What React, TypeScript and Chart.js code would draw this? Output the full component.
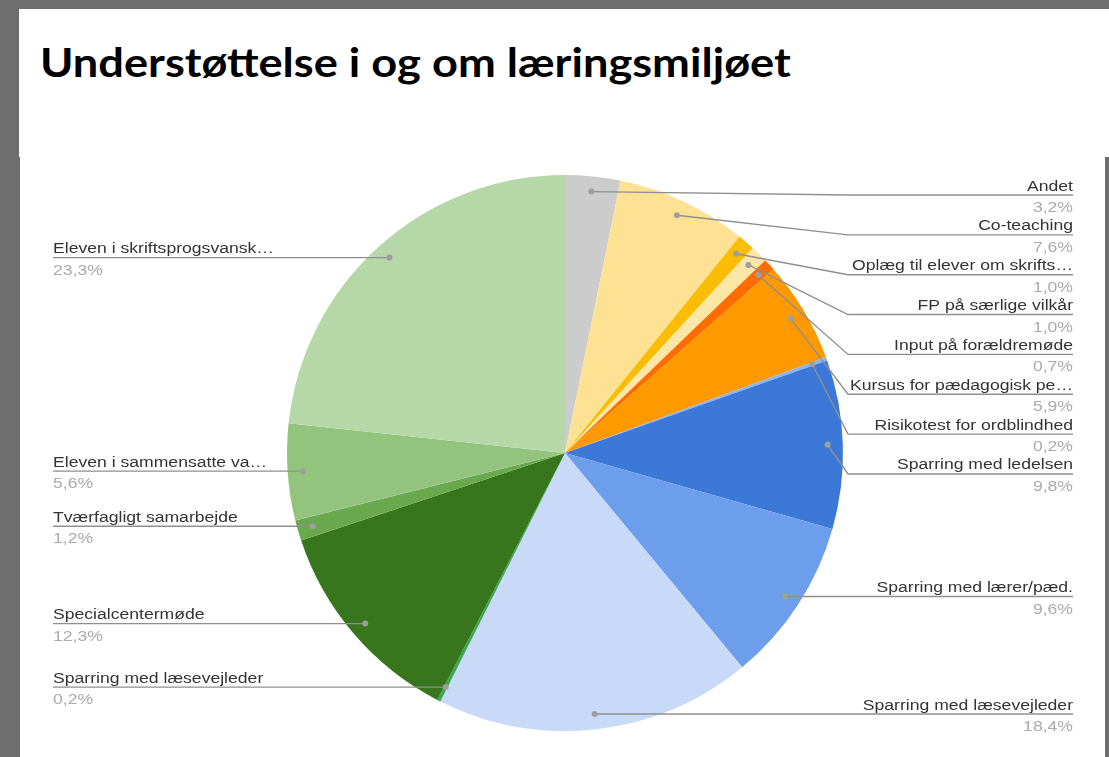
import React, { useEffect, useRef } from "react";
import { Chart, registerables } from "chart.js";

Chart.register(...registerables);

const TITLE = "Understøttelse i og om læringsmiljøet";

const categories = [
  "Andet",
  "Co-teaching",
  "Oplæg til elever om skrifts…",
  "FP på særlige vilkår",
  "Input på forældremøde",
  "Kursus for pædagogisk pe…",
  "Risikotest for ordblindhed",
  "Sparring med ledelsen",
  "Sparring med lærer/pæd.",
  "Sparring med læsevejleder",
  "Sparring med læsevejleder",
  "Specialcentermøde",
  "Tværfagligt samarbejde",
  "Eleven i sammensatte va…",
  "Eleven i skriftsprogsvansk…",
];

const values = [3.2, 7.6, 1.0, 1.0, 0.7, 5.9, 0.2, 9.8, 9.6, 18.4, 0.2, 12.3, 1.2, 5.6, 23.3];

const colors = [
  "#cccccc",
  "#fde293",
  "#fbbc04",
  "#fde7a6",
  "#ff6d01",
  "#ff9900",
  "#8ab4f8",
  "#3c78d8",
  "#6d9eeb",
  "#c9daf8",
  "#34a853",
  "#38761d",
  "#6aa84f",
  "#93c47d",
  "#b6d7a8",
];

const fmtPct = (v: number) => v.toFixed(1).replace(".", ",") + "%";

const TEXT_STRETCH = 1.135;

const labelPlugin = {
  id: "googleLabels",
  afterDraw(chart: any) {
    const ctx = chart.ctx as CanvasRenderingContext2D;
    const meta = chart.getDatasetMeta(0);
    const W = chart.width;
    const rightX = W - 32;
    const leftX = 33;
    const spacing = 39.85;
    const items: any[] = [];
    meta.data.forEach((arc: any, i: number) => {
      const p = arc.getProps(["x", "y", "startAngle", "endAngle", "outerRadius"], true);
      const mid = (p.startAngle + p.endAngle) / 2;
      const r = p.outerRadius * 0.945;
      items.push({
        i,
        dx: p.x + Math.cos(mid) * r,
        dy: p.y + Math.sin(mid) * r,
        cx: p.x,
        cy: p.y,
        R: p.outerRadius,
        right: Math.cos(mid) >= 0,
      });
    });
    const place = (list: any[]) => {
      list.sort((a, b) => a.dy - b.dy);
      let prev = -Infinity;
      list.forEach((it) => {
        const minY = it.cy - it.R + 20;
        const y = Math.max(it.dy, prev + spacing, minY);
        it.ly = y;
        prev = y;
      });
    };
    place(items.filter((d) => d.right));
    place(items.filter((d) => !d.right));

    const stretchText = (txt: string, x: number, y: number, align: CanvasTextAlign) => {
      ctx.save();
      ctx.translate(x, y);
      ctx.scale(TEXT_STRETCH, 1);
      ctx.textAlign = align;
      ctx.textBaseline = "alphabetic";
      ctx.fillText(txt, 0, 0);
      ctx.restore();
    };

    ctx.save();
    items.forEach((it) => {
      const elbowX = it.right ? it.cx + it.R + 5 : it.cx - it.R - 5;
      const endX = it.right ? rightX : leftX;
      ctx.strokeStyle = "#8f8f8f";
      ctx.lineWidth = 1.4;
      ctx.beginPath();
      ctx.moveTo(it.dx, it.dy);
      ctx.lineTo(elbowX, it.ly);
      ctx.lineTo(endX, it.ly);
      ctx.stroke();
      ctx.fillStyle = "#9e9e9e";
      ctx.beginPath();
      ctx.arc(it.dx, it.dy, 3, 0, Math.PI * 2);
      ctx.fill();

      const align: CanvasTextAlign = it.right ? "right" : "left";
      ctx.font = "15.5px 'Liberation Sans', Arial, sans-serif";
      ctx.fillStyle = "#333333";
      stretchText(categories[it.i], endX, it.ly - 4.5, align);
      ctx.fillStyle = "#aaaaaa";
      stretchText(fmtPct(values[it.i]), endX, it.ly + 17, align);
    });
    ctx.restore();
  },
};

export default function App() {
  const canvasRef = useRef<HTMLCanvasElement | null>(null);

  useEffect(() => {
    if (!canvasRef.current) return;
    const chart = new Chart(canvasRef.current, {
      type: "pie",
      data: {
        labels: categories,
        datasets: [
          {
            data: values,
            backgroundColor: colors,
            borderWidth: 0,
          },
        ],
      },
      options: {
        animation: false,
        responsive: false,
        maintainAspectRatio: false,
        layout: { padding: { left: 267, right: 262, top: 18, bottom: 26 } },
        plugins: {
          legend: { display: false },
          tooltip: { enabled: false },
          title: { display: false },
        },
      },
      plugins: [labelPlugin],
    });
    return () => chart.destroy();
  }, []);

  return (
    <div style={{ position: "fixed", inset: 0, background: "#6e6e6e", overflow: "hidden" }}>
      <div
        style={{
          position: "absolute",
          left: 19,
          top: 9,
          width: 1090,
          height: 148,
          background: "#ffffff",
        }}
      >
        <div
          style={{
            position: "absolute",
            left: 21,
            top: 33,
            fontFamily: "Lato, 'Open Sans', sans-serif",
            fontWeight: 700,
            fontSize: 40,
            lineHeight: 1,
            color: "#000000",
            whiteSpace: "nowrap",
            transform: "scaleX(1.13)",
            transformOrigin: "left top",
          }}
        >
          {TITLE}
        </div>
      </div>
      <div
        style={{
          position: "absolute",
          left: 20,
          top: 157,
          width: 1085,
          height: 600,
          background: "#ffffff",
        }}
      >
        <canvas ref={canvasRef} width={1085} height={600} style={{ display: "block" }} />
      </div>
    </div>
  );
}
